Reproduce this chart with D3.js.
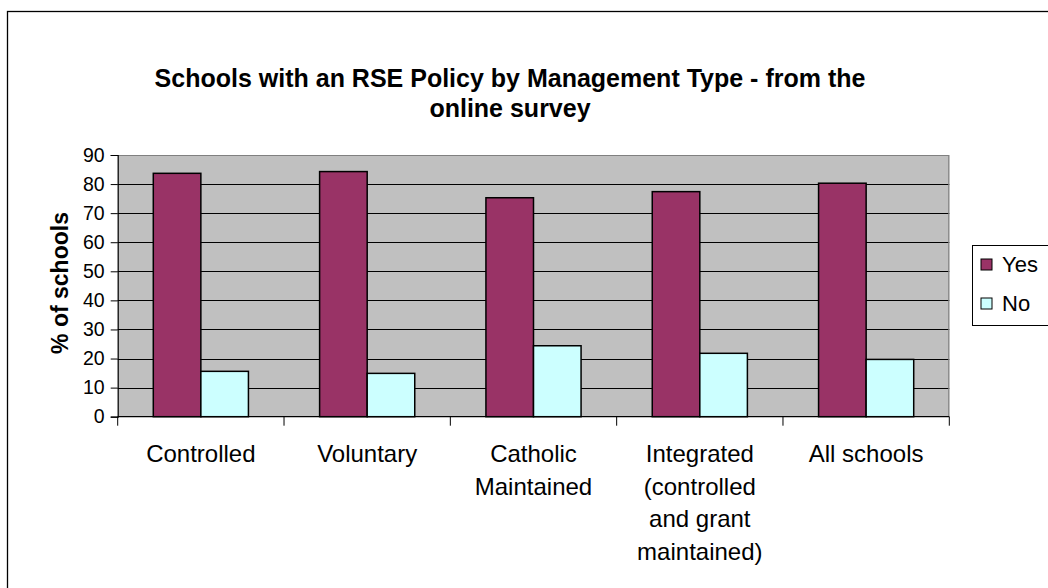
<!DOCTYPE html>
<html>
<head>
<meta charset="utf-8">
<script src="https://cdn.jsdelivr.net/npm/d3@7"></script>
<style>
  html, body { margin: 0; padding: 0; background: #fff; }
  svg { display: block; font-family: "Liberation Sans", Arial, sans-serif; }
</style>
</head>
<body>
<svg id="chart" width="1048" height="588"></svg>
<script>
// Survey results: share of schools with an RSE policy, by management type
const categories = [
  ["Controlled"],
  ["Voluntary"],
  ["Catholic", "Maintained"],
  ["Integrated", "(controlled", "and grant", "maintained)"],
  ["All schools"]
];
const seriesNames = ["Yes", "No"];
const yesValues = [83.7, 84.3, 75.3, 77.4, 80.3];
const noValues = [15.6, 14.9, 24.4, 21.8, 19.7];
const yTicks = [0, 10, 20, 30, 40, 50, 60, 70, 80, 90];
const titleLines = ["Schools with an RSE Policy by Management Type - from the", "online survey"];
const yAxisTitle = "% of schools";

const colors = { Yes: "#993366", No: "#CCFFFF" };

const svg = d3.select("#chart");

// outer chart frame (continues past the right and bottom edges)
svg.append("rect")
  .attr("x", 7.5).attr("y", 11.5)
  .attr("width", 1100).attr("height", 700)
  .attr("fill", "#fff").attr("stroke", "#000").attr("stroke-width", 1.3);

const plot = { left: 117.7, right: 949.3, top: 155, bottom: 416.7 };

const x0 = d3.scaleBand()
  .domain(d3.range(categories.length))
  .range([plot.left, plot.right])
  .paddingInner(0).paddingOuter(0);

const barSpan = 0.572;
const x1 = d3.scaleBand()
  .domain(seriesNames)
  .range([0, x0.bandwidth() * barSpan]);

const y = d3.scaleLinear().domain([0, 90]).range([plot.bottom, plot.top]);

// plot background
svg.append("rect")
  .attr("x", plot.left).attr("y", plot.top)
  .attr("width", plot.right - plot.left).attr("height", plot.bottom - plot.top)
  .attr("fill", "#C0C0C0");

// horizontal gridlines
svg.append("g")
  .selectAll("line")
  .data(yTicks.filter(t => t > 0 && t < 90))
  .join("line")
  .attr("x1", plot.left).attr("x2", plot.right)
  .attr("y1", d => Math.round(y(d)) + 0.5).attr("y2", d => Math.round(y(d)) + 0.5)
  .attr("stroke", "#000").attr("stroke-width", 1);

// top and right plot border
svg.append("path")
  .attr("d", `M${plot.left},${plot.top + 0.5}H${plot.right - 0.5}V${plot.bottom}`)
  .attr("fill", "none").attr("stroke", "#808080").attr("stroke-width", 1.2);

// bars
const groups = svg.append("g")
  .selectAll("g")
  .data(categories.map((c, i) => ({ i, values: [yesValues[i], noValues[i]] })))
  .join("g")
  .attr("transform", d => `translate(${x0(d.i) + x0.bandwidth() * (1 - barSpan) / 2},0)`);

groups.selectAll("rect")
  .data(d => seriesNames.map((s, k) => ({ s, v: d.values[k] })))
  .join("rect")
  .attr("x", d => x1(d.s))
  .attr("y", d => y(d.v))
  .attr("width", x1.bandwidth())
  .attr("height", d => y(0) - y(d.v))
  .attr("fill", d => colors[d.s])
  .attr("stroke", "#000").attr("stroke-width", 1.5);

// y axis
const yAxis = d3.axisLeft(y).tickValues(yTicks).tickSize(7).tickPadding(6);
const gy = svg.append("g")
  .attr("transform", `translate(${plot.left},0)`)
  .call(yAxis);
gy.select(".domain").attr("stroke", "#000").attr("stroke-width", 1.2);
gy.selectAll(".tick line").attr("stroke", "#000");
gy.selectAll(".tick text")
  .attr("font-family", "Liberation Sans, Arial, sans-serif")
  .attr("font-size", 19.5).attr("fill", "#000");

// x axis: ticks at category boundaries
const gx = svg.append("g");
gx.append("line")
  .attr("x1", plot.left).attr("x2", plot.right)
  .attr("y1", plot.bottom).attr("y2", plot.bottom)
  .attr("stroke", "#000").attr("stroke-width", 1.2);
gx.selectAll("line.tk")
  .data(d3.range(categories.length + 1))
  .join("line")
  .attr("class", "tk")
  .attr("x1", i => i < categories.length ? x0(i) : plot.right)
  .attr("x2", i => i < categories.length ? x0(i) : plot.right)
  .attr("y1", plot.bottom).attr("y2", plot.bottom + 9)
  .attr("stroke", "#000").attr("stroke-width", 1);

// category labels
gx.selectAll("text.cat")
  .data(categories.map((c, i) => ({ c, i })))
  .join("text")
  .attr("class", "cat")
  .attr("x", d => x0(d.i) + x0.bandwidth() / 2)
  .attr("y", 462)
  .attr("text-anchor", "middle")
  .attr("font-size", 24).attr("fill", "#000")
  .selectAll("tspan")
  .data(d => d.c.map((line, k) => ({ line, k, cx: x0(d.i) + x0.bandwidth() / 2 })))
  .join("tspan")
  .attr("x", d => d.cx)
  .attr("dy", d => d.k === 0 ? 0 : 32.5)
  .text(d => d.line);

// axis title
svg.append("text")
  .attr("transform", `translate(68,283) rotate(-90)`)
  .attr("text-anchor", "middle")
  .attr("font-size", 23).attr("font-weight", "bold")
  .text(yAxisTitle);

// chart title
svg.append("text")
  .attr("text-anchor", "middle")
  .attr("font-size", 25).attr("font-weight", "bold")
  .selectAll("tspan")
  .data(titleLines)
  .join("tspan")
  .attr("x", 510)
  .attr("y", (d, k) => 87 + k * 30)
  .text(d => d);

// legend
const lg = svg.append("g");
lg.append("rect")
  .attr("x", 972.5).attr("y", 245.5)
  .attr("width", 80).attr("height", 80)
  .attr("fill", "#fff").attr("stroke", "#000").attr("stroke-width", 1);
const items = lg.selectAll("g.item")
  .data(seriesNames)
  .join("g")
  .attr("class", "item")
  .attr("transform", (d, k) => `translate(981,${259 + k * 39})`);
items.append("rect")
  .attr("width", 11).attr("height", 11)
  .attr("fill", d => colors[d]).attr("stroke", "#000").attr("stroke-width", 1);
items.append("text")
  .attr("x", 21).attr("y", 13)
  .attr("font-size", 22).attr("fill", "#000")
  .text(d => d);
</script>
</body>
</html>
